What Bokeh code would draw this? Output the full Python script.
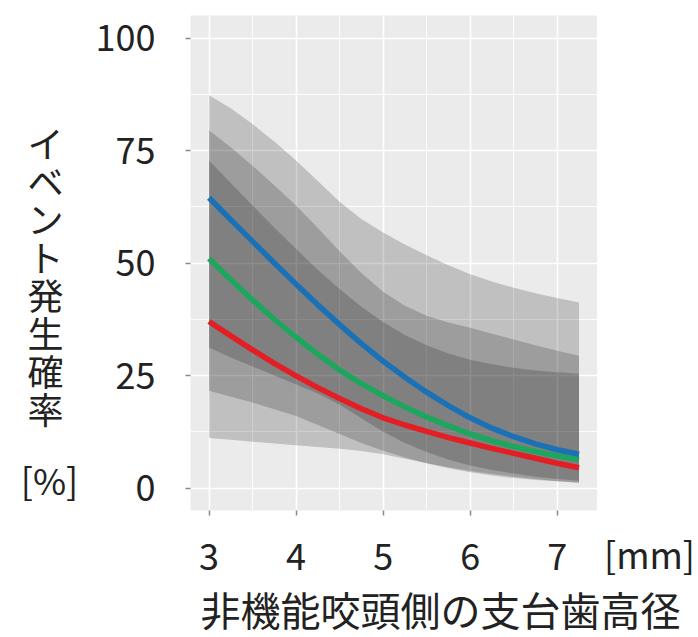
from bokeh.plotting import figure
from bokeh.models import Range1d, FixedTicker
from bokeh.layouts import row, column
from bokeh.core.properties import value
from bokeh.embed import file_html
from bokeh.resources import INLINE

# ---- data ----
x_mm = [3.0, 3.25, 3.5, 3.75, 4.0, 4.25, 4.5, 4.75, 5.0, 5.25, 5.5, 5.75, 6.0, 6.25, 6.5, 6.75, 7.0, 7.25]

blue_fit = [64.5, 59.6, 54.8, 50.0, 45.3, 40.7, 36.3, 32.1, 28.2, 24.6, 21.3, 18.3, 15.6, 13.3, 11.4, 9.8, 8.5, 7.5]
blue_lo = [31.2, 29.0, 27.0, 25.0, 23.0, 21.0, 18.5, 15.5, 12.5, 10.0, 8.0, 6.3, 5.0, 4.0, 3.2, 2.5, 2.0, 1.6]
blue_hi = [87.3, 84.4, 80.9, 77.0, 72.8, 68.2, 63.6, 59.8, 56.8, 54.1, 51.7, 49.5, 47.5, 45.9, 44.5, 43.3, 42.2, 41.2]

green_fit = [51.0, 46.3, 41.8, 37.5, 33.5, 29.7, 26.2, 23.2, 20.5, 18.0, 15.8, 13.8, 12.0, 10.5, 9.2, 8.1, 7.1, 6.3]
green_lo = [21.6, 20.3, 19.0, 17.5, 16.0, 14.0, 12.0, 10.0, 8.3, 6.8, 5.5, 4.4, 3.5, 2.8, 2.2, 1.8, 1.5, 1.2]
green_hi = [79.5, 75.7, 71.6, 67.3, 62.8, 57.8, 52.6, 47.8, 43.6, 40.5, 38.3, 36.8, 35.6, 34.3, 33.0, 31.7, 30.5, 29.4]

red_fit = [37.0, 33.8, 30.7, 27.7, 24.9, 22.3, 19.9, 17.6, 15.6, 14.0, 12.6, 11.2, 10.0, 8.8, 7.7, 6.6, 5.5, 4.5]
red_lo = [11.1, 10.7, 10.3, 9.9, 9.5, 9.1, 8.7, 8.2, 7.5, 6.5, 5.5, 4.6, 3.8, 3.1, 2.5, 2.0, 1.5, 1.1]
red_hi = [72.8, 67.8, 62.8, 57.9, 53.1, 48.5, 44.2, 40.3, 36.9, 34.0, 31.7, 29.9, 28.5, 27.5, 26.7, 26.1, 25.7, 25.4]

x_ticks = [3, 4, 5, 6, 7]
x_minor = [2.5, 3.5, 4.5, 5.5, 6.5, 7.5]
y_ticks = [0, 25, 50, 75, 100]
y_minor = [12.5, 37.5, 62.5, 87.5]

y_title = "イベント発生確率"
y_unit = "[%]"
x_title = "非機能咬頭側の支台歯高径"
x_unit = "[mm]"

FONT = "Noto Sans CJK JP"
TXT = "#222222"

ROW_H = 579
LEFT_W = 90
MAIN_W = 507
RIGHT_W = 698 - LEFT_W - MAIN_W
BOTTOM_H = 637 - ROW_H


def text_panel(w, h):
    f = figure(width=w, height=h, output_backend="svg", toolbar_location=None,
               x_range=Range1d(0, w), y_range=Range1d(h, 0),
               x_axis_type=None, y_axis_type=None, min_border=0, frame_align=False)
    f.outline_line_color = None
    f.background_fill_color = "white"
    f.border_fill_color = "white"
    return f


# ---- main plot ----
p = figure(width=MAIN_W, height=ROW_H, output_backend="svg", toolbar_location=None,
           x_range=Range1d(2.7875, 7.4625), y_range=Range1d(-5, 105), frame_align=False,
           min_border_left=100, min_border_right=0, min_border_top=15,
           min_border_bottom=ROW_H - 510)

p.background_fill_color = "#EBEBEB"
p.border_fill_color = "white"
p.outline_line_color = None

for g in (p.xgrid, p.ygrid):
    g.grid_line_color = "white"
    g.grid_line_width = 1.6
    g.minor_grid_line_color = "white"
    g.minor_grid_line_width = 0.9

p.xaxis.ticker = FixedTicker(ticks=x_ticks, minor_ticks=x_minor)
p.yaxis.ticker = FixedTicker(ticks=y_ticks, minor_ticks=y_minor)

for ax in (p.xaxis, p.yaxis):
    ax.axis_line_color = None
    ax.major_tick_line_color = "#8A8A8A"
    ax.major_tick_line_width = 1.5
    ax.major_tick_out = 5
    ax.major_tick_in = 0
    ax.minor_tick_line_color = None
    ax.major_label_text_font = FONT
    ax.major_label_text_font_size = "36px"
    ax.major_label_text_color = TXT

p.xaxis.major_label_standoff = 28
p.yaxis.major_label_standoff = 30

for lo, hi in ((blue_lo, blue_hi), (green_lo, green_hi), (red_lo, red_hi)):
    p.varea(x=x_mm, y1=lo, y2=hi, fill_color="black", fill_alpha=0.18)

p.line(x_mm, red_fit, line_color="#E31E24", line_width=5.5)
p.line(x_mm, green_fit, line_color="#1DA75E", line_width=5.5)
p.line(x_mm, blue_fit, line_color="#1B71B6", line_width=5.5)

# ---- left text panel: stacked y-axis title ----
left = text_panel(LEFT_W, ROW_H)
chars = list(y_title)
top_c, pitch = 141, 38
left.text(x=[45] * len(chars), y=[top_c + pitch * i for i in range(len(chars))], text=chars,
          text_align="center", text_baseline="middle", text_font=value(FONT),
          text_font_size="36px", text_color=TXT)
left.text(x=[49], y=[478], text=[y_unit], text_align="center", text_baseline="middle",
          text_font=value(FONT), text_font_size="36px", text_color=TXT)

# ---- right text panel: unit of x ----
right = text_panel(RIGHT_W, ROW_H)
right.text(x=[52], y=[552], text=[x_unit], text_align="center", text_baseline="middle",
           text_font=value(FONT), text_font_size="36px", text_color=TXT)

# ---- bottom text panel: x-axis title ----
bottom = text_panel(698, BOTTOM_H)
bottom.text(x=[440], y=[29], text=[x_title], text_align="center",
            text_baseline="middle", text_font=value(FONT), text_font_size="40px",
            text_color=TXT)

layout = column(row(left, p, right, spacing=0), bottom, spacing=0)

open("out.html", "w").write(file_html(layout, INLINE))
